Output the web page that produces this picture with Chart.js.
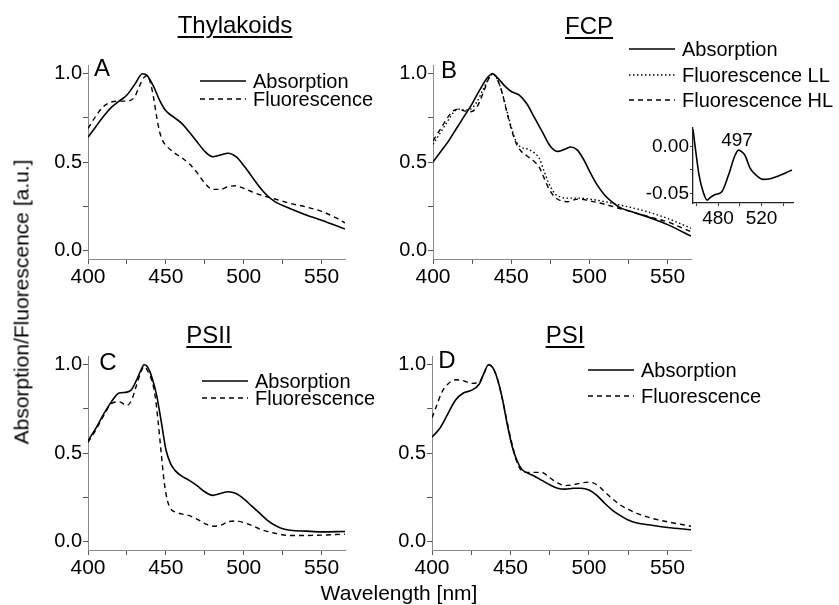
<!DOCTYPE html>
<html>
<head>
<meta charset="utf-8">
<script src="https://cdn.jsdelivr.net/npm/chart.js@4.4.1/dist/chart.umd.min.js"></script>
<style>
  body { margin: 0; background: #fff; }
  #fig { position: relative; width: 839px; height: 605px; overflow: hidden; font-family: "Liberation Sans", Arial, sans-serif; color: #000; }
  #fig canvas { position: absolute; }
  .txt { position: absolute; transform: translate(-50%, -50%); line-height: 1; white-space: nowrap; }
  .title { font-size: 24px; text-decoration: underline; text-underline-offset: 3px; text-decoration-thickness: 1.5px; }
  .letter { font-size: 24px; }
  .axt { font-size: 21px; }
</style>
</head>
<body>
<div id="fig">
  <canvas id="pA"></canvas>
  <canvas id="pB"></canvas>
  <canvas id="pC"></canvas>
  <canvas id="pD"></canvas>
  <canvas id="pInset"></canvas>

  <div class="txt title" style="left:235px; top:25px;">Thylakoids</div>
  <div class="txt title" style="left:589px; top:26px;">FCP</div>
  <div class="txt title" style="left:209px; top:335px;">PSII</div>
  <div class="txt title" style="left:565px; top:335px;">PSI</div>

  <div class="txt letter" style="left:102px; top:68px;">A</div>
  <div class="txt letter" style="left:449px; top:70px;">B</div>
  <div class="txt letter" style="left:108px; top:362px;">C</div>
  <div class="txt letter" style="left:447px; top:360px;">D</div>

  <div class="txt" style="left:737px; top:139px; font-size:19px;">497</div>
  <div class="txt axt" style="left:399px; top:592px;">Wavelength [nm]</div>
  <div class="txt axt" style="left:21px; top:302px; transform:translate(-50%,-50%) rotate(-90deg);">Absorption/Fluorescence [a.u.]</div>
</div>

<script>
// axis ticks (minor ones get no label)
const nmTicks = [400, 425, 450, 475, 500, 525, 550];
const auTicks = [0, 0.25, 0.5, 0.75, 1.0];
const insetNmTicks = [460, 480, 500, 520, 540];
const insetDiffTicks = [-0.05, -0.025, 0];

// A - Thylakoids
const thyAbsNm = [400, 405, 410, 415, 420, 425, 430, 435, 438, 442, 446, 450, 455, 460, 465, 470, 475, 480, 485, 490, 495, 500, 505, 510, 515, 520, 530, 540, 550, 565];
const thyAbs   = [0.64, 0.70, 0.76, 0.81, 0.845, 0.88, 0.94, 1.0, 0.99, 0.93, 0.85, 0.79, 0.755, 0.72, 0.67, 0.615, 0.56, 0.53, 0.54, 0.55, 0.53, 0.48, 0.42, 0.36, 0.31, 0.275, 0.235, 0.20, 0.17, 0.12];
const thyFlNm  = [400, 405, 410, 415, 420, 425, 430, 433, 436, 438, 440, 442, 444, 446, 448, 450, 455, 460, 465, 470, 475, 480, 485, 490, 495, 500, 510, 520, 530, 540, 550, 560, 565];
const thyFl    = [0.69, 0.76, 0.815, 0.84, 0.845, 0.845, 0.87, 0.93, 0.98, 0.99, 0.95, 0.87, 0.76, 0.67, 0.62, 0.595, 0.555, 0.525, 0.49, 0.44, 0.38, 0.345, 0.345, 0.36, 0.365, 0.35, 0.315, 0.29, 0.265, 0.245, 0.22, 0.18, 0.155];

// B - FCP
const fcpAbsNm = [400, 405, 410, 415, 420, 425, 430, 435, 438, 442, 446, 450, 455, 460, 465, 470, 475, 480, 485, 488, 492, 496, 500, 505, 510, 515, 520, 530, 540, 550, 565];
const fcpAbs   = [0.50, 0.56, 0.62, 0.69, 0.76, 0.83, 0.91, 0.98, 1.0, 0.97, 0.93, 0.90, 0.88, 0.83, 0.75, 0.67, 0.59, 0.56, 0.575, 0.585, 0.57, 0.52, 0.45, 0.37, 0.31, 0.27, 0.24, 0.21, 0.18, 0.145, 0.08];
const fcpFlNm  = [400, 405, 410, 413, 416, 420, 424, 428, 432, 436, 438, 441, 444, 447, 450, 453, 456, 460, 465, 468, 471, 474, 478, 482, 486, 490, 494, 500, 510, 520, 530, 540, 550, 565];
const fcpFlLL  = [0.60, 0.67, 0.74, 0.78, 0.80, 0.795, 0.80, 0.84, 0.91, 0.98, 1.0, 0.97, 0.90, 0.80, 0.70, 0.62, 0.585, 0.575, 0.55, 0.52, 0.45, 0.38, 0.32, 0.30, 0.295, 0.295, 0.295, 0.29, 0.275, 0.255, 0.235, 0.21, 0.18, 0.125];
const fcpFlHL  = [0.62, 0.69, 0.76, 0.79, 0.80, 0.79, 0.785, 0.81, 0.89, 0.98, 1.0, 0.97, 0.90, 0.79, 0.69, 0.61, 0.565, 0.535, 0.50, 0.47, 0.41, 0.35, 0.30, 0.28, 0.275, 0.285, 0.29, 0.28, 0.26, 0.235, 0.21, 0.185, 0.16, 0.105];

// B inset - difference spectrum
const insetNm   = [457, 459.5, 462.5, 466.5, 470, 473, 477.5, 483.5, 489.5, 495.5, 499, 501, 505, 509.5, 515.5, 521.5, 529, 536.5, 542.5, 548];
const insetDiff = [0.018, -0.005, -0.030, -0.049, -0.057, -0.054, -0.051, -0.048, -0.031, -0.010, -0.004, -0.005, -0.010, -0.023, -0.031, -0.035, -0.034, -0.031, -0.028, -0.025];

// C - PSII
const psiiAbsNm = [400, 405, 410, 415, 420, 425, 428, 431, 434, 436, 438, 441, 444, 447, 450, 453, 456, 460, 465, 470, 475, 480, 485, 490, 495, 500, 505, 510, 515, 520, 525, 530, 540, 550, 565];
const psiiAbs   = [0.57, 0.64, 0.72, 0.79, 0.84, 0.845, 0.86, 0.91, 0.97, 1.0, 0.99, 0.93, 0.83, 0.68, 0.52, 0.44, 0.40, 0.37, 0.345, 0.315, 0.28, 0.26, 0.27, 0.28, 0.27, 0.24, 0.20, 0.16, 0.12, 0.09, 0.07, 0.062, 0.057, 0.053, 0.055];
const psiiFlNm  = [400, 405, 410, 415, 420, 425, 428, 431, 434, 436, 438, 441, 443, 445, 447, 449, 451, 453, 456, 460, 465, 470, 475, 480, 485, 490, 495, 500, 505, 510, 520, 530, 545, 565];
const psiiFl    = [0.56, 0.63, 0.71, 0.78, 0.79, 0.77, 0.80, 0.88, 0.96, 0.99, 0.97, 0.91, 0.83, 0.68, 0.50, 0.33, 0.23, 0.185, 0.165, 0.155, 0.145, 0.125, 0.10, 0.085, 0.09, 0.11, 0.115, 0.105, 0.09, 0.07, 0.045, 0.032, 0.033, 0.04];

// D - PSI
const psiAbsNm = [400, 405, 410, 415, 420, 425, 430, 433, 436, 439, 442, 445, 448, 451, 454, 457, 460, 465, 470, 475, 480, 485, 490, 495, 500, 505, 510, 515, 520, 525, 530, 540, 550, 565];
const psiAbs   = [0.59, 0.64, 0.72, 0.80, 0.84, 0.855, 0.89, 0.95, 1.0, 0.98, 0.91, 0.80, 0.66, 0.54, 0.46, 0.41, 0.39, 0.37, 0.345, 0.32, 0.30, 0.295, 0.30, 0.30, 0.29, 0.26, 0.215, 0.175, 0.145, 0.12, 0.105, 0.09, 0.078, 0.065];
const psiFlNm  = [400, 403, 406, 410, 415, 420, 425, 430, 433, 436, 439, 442, 445, 448, 451, 454, 457, 460, 465, 470, 475, 480, 485, 490, 495, 500, 505, 510, 515, 520, 525, 530, 540, 550, 565];
const psiFl    = [0.70, 0.77, 0.84, 0.89, 0.915, 0.91, 0.895, 0.90, 0.95, 1.0, 0.98, 0.91, 0.80, 0.67, 0.55, 0.45, 0.40, 0.39, 0.39, 0.39, 0.36, 0.33, 0.315, 0.32, 0.33, 0.335, 0.32, 0.28, 0.24, 0.205, 0.18, 0.16, 0.13, 0.11, 0.085];

const FONT = '"Liberation Sans", Arial, sans-serif';
const pts = (xs, ys) => xs.map((x, i) => ({ x: x, y: ys[i] }));

function series(label, xs, ys, dash) {
  return {
    label: label,
    data: pts(xs, ys),
    borderColor: '#000',
    borderWidth: dash.length ? 1.4 : 1.6,
    borderDash: dash,
    pointRadius: 0,
    fill: false,
    cubicInterpolationMode: 'monotone'
  };
}

// legend: line sample + text, drawn at page coordinates
const lineKey = {
  id: 'lineKey',
  afterDraw(chart, args, opts) {
    if (!opts.rows) return;
    const ctx = chart.ctx;
    ctx.save();
    chart.data.datasets.forEach((ds, i) => {
      const y = opts.rows[i] - opts.oy;
      const x = opts.x - opts.ox;
      ctx.beginPath();
      ctx.setLineDash(ds.borderDash || []);
      ctx.lineWidth = ds.borderWidth;
      ctx.strokeStyle = ds.borderColor;
      ctx.moveTo(x, y);
      ctx.lineTo(x + 46, y);
      ctx.stroke();
      ctx.setLineDash([]);
      ctx.fillStyle = '#000';
      ctx.font = '20px ' + FONT;
      ctx.textBaseline = 'middle';
      ctx.fillText(ds.label, x + 53, y + 1);
    });
    ctx.restore();
  }
};

function makePanel(id, box, area, datasets, ax, key) {
  const cv = document.getElementById(id);
  cv.width = box.w; cv.height = box.h;
  cv.style.left = box.x + 'px'; cv.style.top = box.y + 'px';
  const yw = ax.yw, xh = ax.xh;
  return new Chart(cv, {
    type: 'line',
    data: { datasets: datasets },
    plugins: [lineKey],
    options: {
      responsive: false,
      animation: false,
      layout: {
        padding: {
          left: area.l - box.x - yw,
          top: area.t - box.y,
          right: box.x + box.w - area.r,
          bottom: box.y + box.h - area.b - xh
        }
      },
      plugins: {
        legend: { display: false },
        tooltip: { enabled: false },
        lineKey: key ? { x: key.x, rows: key.rows, ox: box.x, oy: box.y } : {}
      },
      scales: {
        x: {
          type: 'linear',
          min: ax.xmin, max: ax.xmax,
          afterBuildTicks: s => { s.ticks = ax.xticks.map(v => ({ value: v })); },
          afterFit: s => { s.height = xh; },
          ticks: {
            autoSkip: false, maxRotation: 0, padding: ax.xpad,
            color: '#000', font: { family: FONT, size: ax.xfont },
            callback: v => ax.xlabels.includes(v) ? String(v) : ''
          },
          grid: { drawOnChartArea: false, drawTicks: true, tickLength: ax.tick, color: ax.tickColor },
          border: { display: true, color: ax.lineColor, width: ax.lineWidth }
        },
        y: {
          type: 'linear',
          min: ax.ymin, max: ax.ymax,
          afterBuildTicks: s => { s.ticks = ax.yticks.map(v => ({ value: v })); },
          afterFit: s => { s.width = yw; },
          ticks: {
            autoSkip: false, padding: 1,
            color: '#000', font: { family: FONT, size: ax.yfont },
            callback: v => ax.ylabels.includes(v) ? v.toFixed(ax.ydec) : ''
          },
          grid: { drawOnChartArea: false, drawTicks: true, tickLength: ax.tick, color: ax.tickColor },
          border: { display: true, color: ax.lineColor, width: ax.lineWidth }
        }
      }
    }
  });
}

const mainAxes = {
  yw: 50, xh: 32, xfont: 21, yfont: 20, xpad: 1, tick: 5,
  xmin: 400, xmax: 565, xticks: nmTicks, xlabels: [400, 450, 500, 550],
  ymin: -0.05, ymax: 1.05, yticks: auTicks, ylabels: [0, 0.5, 1.0], ydec: 1,
  tickColor: '#555', lineColor: '#8a8a8a', lineWidth: 1
};
const insetAxes = {
  yw: 50, xh: 28, xfont: 19, yfont: 19, xpad: 1, tick: 3,
  xmin: 457, xmax: 549, xticks: insetNmTicks, xlabels: [480, 520],
  ymin: -0.06, ymax: 0.02, yticks: insetDiffTicks, ylabels: [-0.05, 0], ydec: 2,
  tickColor: '#333', lineColor: '#222', lineWidth: 1.3
};

const SOLID = [], DASH = [5, 4], DOT = [1.5, 2.5];

makePanel('pA', { x: 30, y: 35, w: 390, h: 265 }, { l: 88, t: 65, r: 345, b: 259 }, [
  series('Absorption', thyAbsNm, thyAbs, SOLID),
  series('Fluorescence', thyFlNm, thyFl, DASH)
], mainAxes, { x: 200, rows: [81, 99] });

makePanel('pB', { x: 375, y: 35, w: 464, h: 265 }, { l: 433, t: 65, r: 691, b: 259 }, [
  series('Absorption', fcpAbsNm, fcpAbs, SOLID),
  series('Fluorescence LL', fcpFlNm, fcpFlLL, DOT),
  series('Fluorescence HL', fcpFlNm, fcpFlHL, DASH)
], mainAxes, { x: 629, rows: [49, 75, 100] });

makePanel('pInset', { x: 630, y: 115, w: 175, h: 125 }, { l: 693, t: 126, r: 793, b: 203 }, [
  series('', insetNm, insetDiff, SOLID)
], insetAxes, null);

makePanel('pC', { x: 30, y: 340, w: 390, h: 250 }, { l: 88, t: 356, r: 345, b: 550 }, [
  series('Absorption', psiiAbsNm, psiiAbs, SOLID),
  series('Fluorescence', psiiFlNm, psiiFl, DASH)
], mainAxes, { x: 202, rows: [381, 398] });

makePanel('pD', { x: 375, y: 340, w: 464, h: 250 }, { l: 432, t: 356, r: 691, b: 550 }, [
  series('Absorption', psiAbsNm, psiAbs, SOLID),
  series('Fluorescence', psiFlNm, psiFl, DASH)
], mainAxes, { x: 588, rows: [370, 396] });
</script>
</body>
</html>
